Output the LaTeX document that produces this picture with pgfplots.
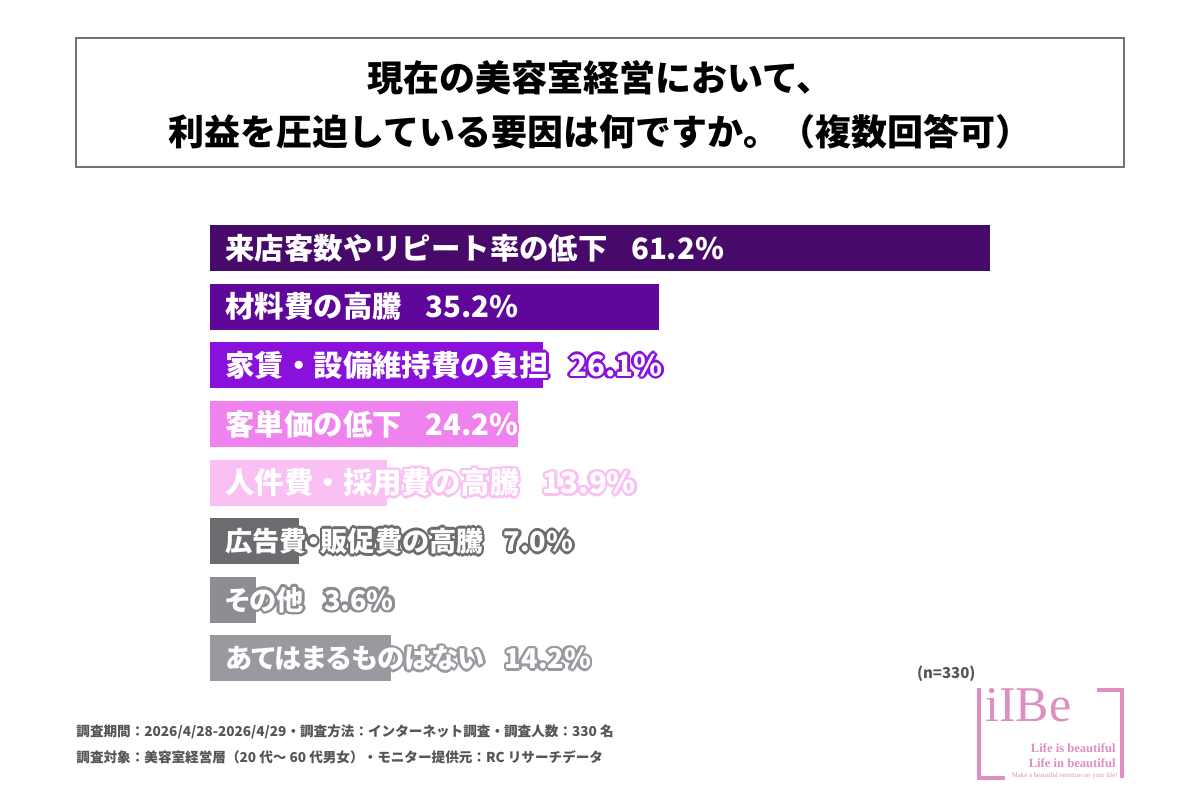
\documentclass[border=0pt]{standalone}
\usepackage{pgfplots}
\pgfplotsset{compat=1.18}
\usepackage{fontspec}
\setmainfont{Noto Sans CJK JP}
\newfontfamily\cjkp{Noto Sans CJK JP}[RawFeature=+palt]
\newfontfamily\logoserif{Liberation Serif}
\definecolor{c1}{HTML}{480A6A}
\definecolor{c2}{HTML}{5E079A}
\definecolor{c3}{HTML}{8A10DC}
\definecolor{c4}{HTML}{EF82EE}
\definecolor{c5}{HTML}{FAC0F4}
\definecolor{c6}{HTML}{6C6B70}
\definecolor{c7}{HTML}{8E8C92}
\definecolor{c8}{HTML}{9B999F}
\definecolor{logopink}{HTML}{DE8FBF}
\definecolor{foot}{HTML}{555555}
\newcommand\lbfont{\fontsize{14.7pt}{17pt}\selectfont\bfseries}
\newcommand\lbfontp{\cjkp\fontsize{13.6pt}{16pt}\selectfont\bfseries}
\newcommand\lab[4][\lbfont]{%
  \foreach \a in {0,30,...,330}{\node[anchor=west,inner sep=0pt,text=#3,font=#1] at ([xshift=7.5pt,shift={(\a:1.3pt)}]#2) {#4};}
  \node[anchor=west,inner sep=0pt,text=white,font=#1] at ([xshift=7.5pt]#2) {#4};}
\begin{document}
\begin{tikzpicture}
\begin{scope}[x=0.5pt,y=0.5pt]
\path[use as bounding box,fill=white] (0,0) rectangle (1200,800);
% title box
\draw[color=black!55,line width=1pt] (76,762) rectangle (1124,633);
\node[font=\fontsize{18pt}{22pt}\selectfont\bfseries] at (600,722) {現在の美容室経営において、};
\node[font=\fontsize{18pt}{22pt}\selectfont\bfseries] at (600,668) {利益を圧迫している要因は何ですか。（複数回答可）};
\end{scope}
\begin{axis}[at={(105pt,290.65pt)},anchor=north west,scale only axis,
  width=446pt,height=234.5pt,xmin=0,xmax=70,ymin=-0.5,ymax=7.5,
  y dir=reverse,axis lines=none,xbar,bar width=23pt,bar shift=0pt,clip=false]
\addplot[fill=c1,draw=none] coordinates {(61.2,0)};
\addplot[fill=c2,draw=none] coordinates {(35.2,1)};
\addplot[fill=c3,draw=none] coordinates {(26.1,2)};
\addplot[fill=c4,draw=none] coordinates {(24.2,3)};
\addplot[fill=c5,draw=none] coordinates {(13.9,4)};
\addplot[fill=c6,draw=none] coordinates {(7.0,5)};
\addplot[fill=c7,draw=none] coordinates {(3.6,6)};
\addplot[fill=c8,draw=none] coordinates {(14.2,7)};
\coordinate (b0) at (axis cs:0,0);
\coordinate (b1) at (axis cs:0,1);
\coordinate (b2) at (axis cs:0,2);
\coordinate (b3) at (axis cs:0,3);
\coordinate (b4) at (axis cs:0,4);
\coordinate (b5) at (axis cs:0,5);
\coordinate (b6) at (axis cs:0,6);
\coordinate (b7) at (axis cs:0,7);
\end{axis}
\lab{b0}{c1}{来店客数やリピート率の低下\hspace{0.8em}61.2\%}
\lab{b1}{c2}{材料費の高騰\hspace{0.8em}35.2\%}
\lab{b2}{c3}{家賃・設備維持費の負担\hspace{0.7em}26.1\%}
\lab{b3}{c4}{客単価の低下\hspace{0.8em}24.2\%}
\lab{b4}{c5}{人件費・採用費の高騰\hspace{0.8em}13.9\%}
\lab[\lbfontp]{b5}{c6}{広告費・販促費の高騰\hspace{0.75em}7.0\%}
\lab[\lbfontp]{b6}{c7}{その他\hspace{0.75em}3.6\%}
\lab[\lbfontp]{b7}{c8}{あてはまるものはない\hspace{0.75em}14.2\%}
\begin{scope}[x=0.5pt,y=0.5pt]
% n
\node[anchor=west,text=foot,font=\fontsize{7.5pt}{9pt}\selectfont\bfseries] at (910,126) {(n=330)};
% footer
\node[anchor=west,inner sep=0pt,text=foot,font=\fontsize{6.8pt}{9pt}\selectfont\bfseries] at (76,68) {調査期間：2026/4/28-2026/4/29・調査方法：インターネット調査・調査人数：330 名};
\node[anchor=west,inner sep=0pt,text=foot,font=\fontsize{6.8pt}{9pt}\selectfont\bfseries] at (76,43) {調査対象：美容室経営層（20 代～ 60 代男女）・モニター提供元：RC リサーチデータ};
% logo
\draw[logopink,line width=2.2pt] (979,112) -- (979,22) -- (1005,22);
\draw[logopink,line width=2.2pt] (1097,110) -- (1122,110) -- (1122,22);
\node[anchor=south west,inner sep=0pt,text=logopink,font=\logoserif\fontsize{25pt}{27pt}\selectfont] at (985,78) {iIBe};
\node[anchor=east,inner sep=0pt,text=logopink,font=\logoserif\bfseries\fontsize{6.3pt}{8pt}\selectfont] at (1116,52) {Life is beautiful};
\node[anchor=east,inner sep=0pt,text=logopink,font=\logoserif\bfseries\fontsize{6.3pt}{8pt}\selectfont] at (1116,37) {Life in beautiful};
\node[anchor=east,inner sep=0pt,text=logopink,font=\logoserif\fontsize{3.4pt}{4pt}\selectfont] at (1118,24) {Make a beautiful emotion on your life!};
\end{scope}
\end{tikzpicture}
\end{document}
